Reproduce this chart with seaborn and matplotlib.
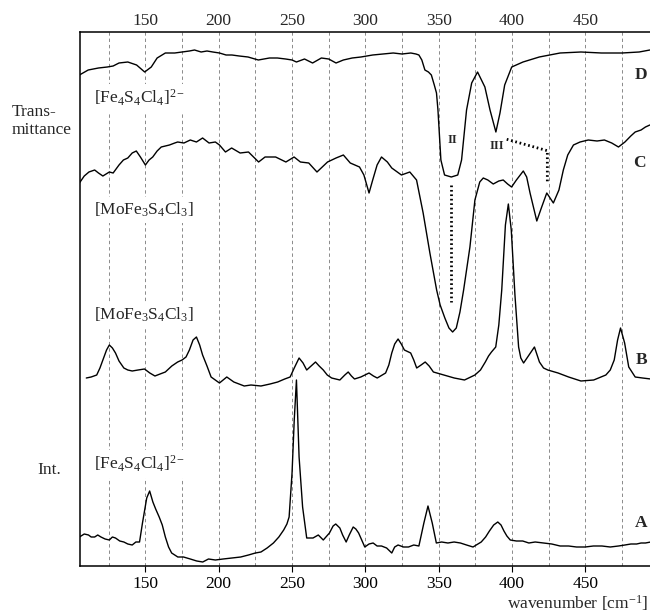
import numpy as np
import pandas as pd
import matplotlib
matplotlib.use("Agg")
import matplotlib.pyplot as plt
import seaborn as sns

# ---------------- data ----------------
# Trace D : IR transmittance of [Fe4S4Cl4]2-  (arbitrary units)
d_wn = [105, 111, 118, 124, 128, 132, 138, 144, 149.5, 154, 158, 163.6, 170, 175, 180, 183.5, 188,
        192, 196, 200.5, 205, 209, 214, 220, 227, 234.6, 240, 245.6, 250, 253, 258.5, 264, 270,
        275, 280, 285, 291, 297, 305, 312, 319, 325, 331, 334.5, 336.5, 338.5, 340.6, 343, 345,
        347, 348.5, 349.5, 351.5, 354, 358.6, 363, 365.6, 369, 372.5, 376.5, 381.5, 385, 389,
        391.8, 395, 399.8, 407.5, 418.6, 432.8, 447, 461, 475, 486.7, 494]
d_val = [111, 116, 118, 119, 120, 123, 124, 121, 114, 119, 128, 133, 133, 134, 135, 136, 134,
         135, 134, 133, 131, 131, 130, 129, 126, 128, 128, 127, 126, 124, 127, 123, 128,
         127, 123, 126, 128, 129, 131, 132, 133, 132, 133, 132, 131, 126, 116, 114, 111,
         101, 93, 76, 26, 11, 9, 11, 26, 76, 103, 114, 99, 76, 54,
         73, 101, 119, 124, 129, 133, 134, 133, 133, 134, 136]

# Trace C : IR transmittance of [MoFe3S4Cl3]
c_wn = [105, 108.3, 111.5, 115.4, 118, 121, 125.4, 128, 132, 135, 138, 141, 143.8, 146.6, 150,
        152.5, 155, 158, 160.8, 166.4, 170, 172, 176.3, 180.6, 184.8, 189, 193.4, 197.7, 200.5,
        204.6, 208.8, 214.6, 220.3, 227.2, 231.6, 238.8, 245.8, 251.4, 255.7, 261.4, 267,
        274.2, 280, 285, 289.7, 296, 299, 302.5, 305, 308, 311, 315, 318, 324.6, 330.3, 334.9,
        339.4, 344, 348.6, 351, 354.2, 357, 359.5, 362, 364.5, 367, 371.3, 374.7, 378, 380.4,
        383.5, 387.2, 391, 394, 397, 399.7, 403, 407.7, 410, 412.3, 416.9, 420, 423.7, 428.2,
        432, 435, 438, 441.9, 446.4, 452, 458, 463, 468, 472.6, 477, 481, 484, 488, 491, 494]
c_val = [153, 160, 164, 166, 163, 160, 164, 163, 171, 176, 178, 183, 185, 179, 171,
         176, 179, 185, 189, 191, 193, 194, 193, 196, 194, 198, 193, 194, 191,
         184, 188, 183, 184, 174, 179, 179, 174, 179, 174, 173, 164,
         174, 178, 181, 173, 169, 161, 143, 156, 171, 179, 174, 168, 161, 164, 156,
         123, 83, 46, 31, 18, 8, 4, 8, 24, 46, 89, 136, 154, 158,
         156, 152, 155, 156, 152, 149, 156, 165, 159, 143, 115, 128, 143, 133,
         146, 166, 181, 191, 194, 196, 195, 196, 193, 189, 194, 200, 204, 206, 209, 211]

# Trace B : Raman intensity of [MoFe3S4Cl3]
b_wn = [109.7, 113, 116.8, 119, 121, 123.5, 125.4, 127.5, 129.6, 132, 135.3, 138, 141, 145, 149.4,
        153, 156.5, 160, 163.6, 168, 172, 175, 177.7, 180, 182.5, 184.8, 187, 189, 192, 194.8,
        200.5, 205.5, 210.3, 217.4, 222, 228.8, 235, 240.2, 245, 248.7, 251.5, 254.8, 257.5,
        260, 263, 266, 268.5, 271.3, 274, 277, 282.6, 286, 288.3, 290.5, 292.6, 296.9, 302.5,
        305.5, 308.1, 313.8, 316, 318, 320, 322.3, 324.5, 326.6, 330.9, 333, 335, 338, 340.8,
        343.5, 346.4, 353.5, 360.6, 367.6, 374.7, 378.5, 381.8, 384, 386, 388.9, 391, 393,
        395.5, 397.5, 399.5, 402, 404.5, 406, 407.9, 411.6, 415.3, 418.7, 421.5, 424.4, 431.4,
        438.6, 447, 455.7, 464, 467, 469.7, 472, 474, 476.8, 479.6, 484, 489, 494.6]
b_val = [8, 9, 11, 18, 26, 36, 41, 38, 33, 25, 18, 16, 15, 16, 17,
         13, 10, 12, 14, 20, 24, 26, 29, 36, 46, 49, 41, 31, 20, 9,
         3, 9, 4, 0, 1, 0, 2, 4, 7, 9, 18, 28, 23,
         16, 20, 24, 20, 16, 11, 8, 6, 11, 14, 10, 7, 9, 13,
         10, 8, 13, 21, 33, 42, 47, 42, 36, 33, 26, 18, 21, 24,
         20, 14, 11, 8, 6, 11, 16, 24, 30, 34, 39, 61, 96,
         161, 182, 156, 91, 39, 28, 23, 31, 39, 24, 18, 16, 13,
         9, 5, 6, 11, 16, 26, 46, 58, 43, 19, 9, 8, 7]

# Trace A : Raman intensity of [Fe4S4Cl4]2-
a_wn = [105, 108.3, 111.2, 113, 115.4, 117.5, 119.7, 122.5, 125.4, 127.5, 129.6, 132.5, 135.3, 138,
        141, 143.5, 146, 148, 150.9, 152.9, 155.1, 157, 159.4, 161.5, 163.6, 165.8, 167.9, 172.1,
        176, 180.6, 185, 189.1, 193, 197.7, 203, 209, 215, 220.3, 225, 228.8, 233, 237.3, 241,
        244.3, 246.5, 248, 250, 251.5, 253, 254.8, 257.2, 260, 264.3, 267.9, 271.3, 275.5, 278,
        279.8, 282.6, 284.5, 286.9, 289, 291.7, 293.5, 295.4, 297.5, 299.6, 302.5, 305.3, 308,
        311, 314.5, 318, 320, 322.3, 326, 329.4, 333, 336.5, 339.9, 342.7, 345.6, 348.4, 352,
        356.3, 360.5, 364.8, 369, 373.4, 379, 382, 384.6, 387.5, 390.3, 392.5, 394.5, 396.5,
        398.8, 403, 407.3, 411.5, 415.8, 421.5, 427.1, 432.8, 438.6, 444, 449.9, 455.5, 461.3,
        467, 472.6, 477, 481.1, 485, 488, 491, 494.6]
a_val = [29, 32, 31, 29, 29, 31, 29, 27, 26, 29, 28, 25, 24, 22,
         21, 24, 24, 43, 68, 75, 64, 57, 49, 41, 29, 19, 13, 9,
         9, 7, 5, 4, 7, 6, 7, 8, 9, 11, 13, 14, 18, 23, 29,
         36, 42, 49, 93, 146, 186, 109, 59, 28, 28, 31, 26, 33, 40,
         42, 38, 31, 24, 31, 39, 37, 33, 26, 19, 22, 23, 20,
         20, 18, 13, 19, 21, 19, 19, 21, 20, 43, 60, 43, 23, 24,
         23, 24, 23, 21, 19, 24, 29, 35, 41, 44, 41, 35, 30,
         26, 25, 25, 23, 24, 23, 22, 20, 20, 19, 19, 20, 20,
         19, 20, 21, 22, 22, 23, 23, 24]

trace_names = ["D", "C", "B", "A"]
trace_offsets = {"D": 380, "C": 230, "B": 180, "A": 0}
formulas = [r"$[\mathrm{Fe}_4\mathrm{S}_4\mathrm{Cl}_4]^{2-}$",
            r"$[\mathrm{MoFe}_3\mathrm{S}_4\mathrm{Cl}_3]$",
            r"$[\mathrm{MoFe}_3\mathrm{S}_4\mathrm{Cl}_3]$",
            r"$[\mathrm{Fe}_4\mathrm{S}_4\mathrm{Cl}_4]^{2-}$"]
xticks = [150, 200, 250, 300, 350, 400, 450]
grid_lines = list(range(125, 476, 25))

# ---------------- style ----------------
sns.set_theme(style="white")
plt.rcParams["font.family"] = ["Liberation Serif", "DejaVu Serif"]
plt.rcParams["mathtext.fontset"] = "custom"
plt.rcParams["mathtext.rm"] = "Liberation Serif"
plt.rcParams["mathtext.it"] = "Liberation Serif:italic"
plt.rcParams["mathtext.bf"] = "Liberation Serif:bold"

FS = 12.5
W, H = 650, 615
fig = plt.figure(figsize=(W / 100, H / 100), dpi=100)
ax = fig.add_axes([80 / W, 1 - 566 / H, 1 - 80 / W, (566 - 32) / H])

for g in grid_lines:
    ax.axvline(g, color="#8a8a8a", lw=0.7, ls=(0, (3.5, 3)), zorder=0)

series = {"D": (d_wn, d_val), "C": (c_wn, c_val), "B": (b_wn, b_val), "A": (a_wn, a_val)}
frames = []
for name in trace_names:
    wn, val = series[name]
    frames.append(pd.DataFrame({"wavenumber": wn,
                                "signal": np.asarray(val, float) + trace_offsets[name],
                                "trace": name}))
df = pd.concat(frames, ignore_index=True)
sns.lineplot(data=df, x="wavenumber", y="signal", hue="trace", units="trace",
             estimator=None, sort=False, palette={n: "black" for n in trace_names},
             lw=1.0, legend=False, ax=ax, zorder=3)

ax.set_xlim(105.4, 494.1)
ax.set_ylim(0, 534)
ax.set_yticks([])
ax.set_xlabel("")
ax.set_ylabel("")
ax.set_xticks(xticks)
ax.tick_params(axis="x", direction="out", length=4, width=0.8, pad=3,
               labelsize=FS, colors="black", bottom=True)
sec = ax.secondary_xaxis("top")
sec.set_xticks(xticks)
sec.tick_params(length=0, pad=2, labelsize=FS)
for s in ["left", "bottom"]:
    ax.spines[s].set_color("black")
    ax.spines[s].set_linewidth(1.1)
ax.spines["right"].set_visible(False)
ax.spines["top"].set_visible(False)
sec.spines["top"].set_color("black")
sec.spines["top"].set_linewidth(1.1)

# formula labels (white background hides grid lines)
formula_pos = [(115.2, 468), (115.2, 356), (115.2, 251), (115.2, 102)]
for txt, (xx, yy) in zip(formulas, formula_pos):
    ax.text(xx, yy, txt, fontsize=FS, ha="left", va="center", zorder=2,
            bbox=dict(facecolor="white", edgecolor="none", pad=3))

letter_pos = {"D": (488, 491), "C": (486.8, 403), "B": (488, 206), "A": (488, 43)}
for name, (xx, yy) in letter_pos.items():
    ax.text(xx, yy, name, fontsize=FS, fontweight="bold", ha="center", va="center", zorder=4)

ax.text(359.7, 426, "II", fontsize=9, fontweight="bold", ha="center", va="center")
ax.text(389.6, 420, "III", fontsize=9, fontweight="bold", ha="center", va="center")

ax.plot([358.3, 358.3], [381, 264], color="black", lw=2.0, ls=(0, (0.6, 1.0)), zorder=4)
ax.plot([396.4, 424.1, 424.1], [426.7, 415.3, 384.3], color="black", lw=2.0,
        ls=(0, (0.6, 1.0)), zorder=4)

fig.text(12 / W, 1 - 121 / H, "Trans-\nmittance", fontsize=FS, ha="left", va="center",
         linespacing=1.25)
fig.text(49 / W, 1 - 470 / H, "Int.", fontsize=FS, ha="center", va="center")
fig.text(648 / W, 2 / H, r"wavenumber [cm$^{-1}$]", fontsize=FS, ha="right", va="bottom")

fig.savefig("out.png", dpi=100)
